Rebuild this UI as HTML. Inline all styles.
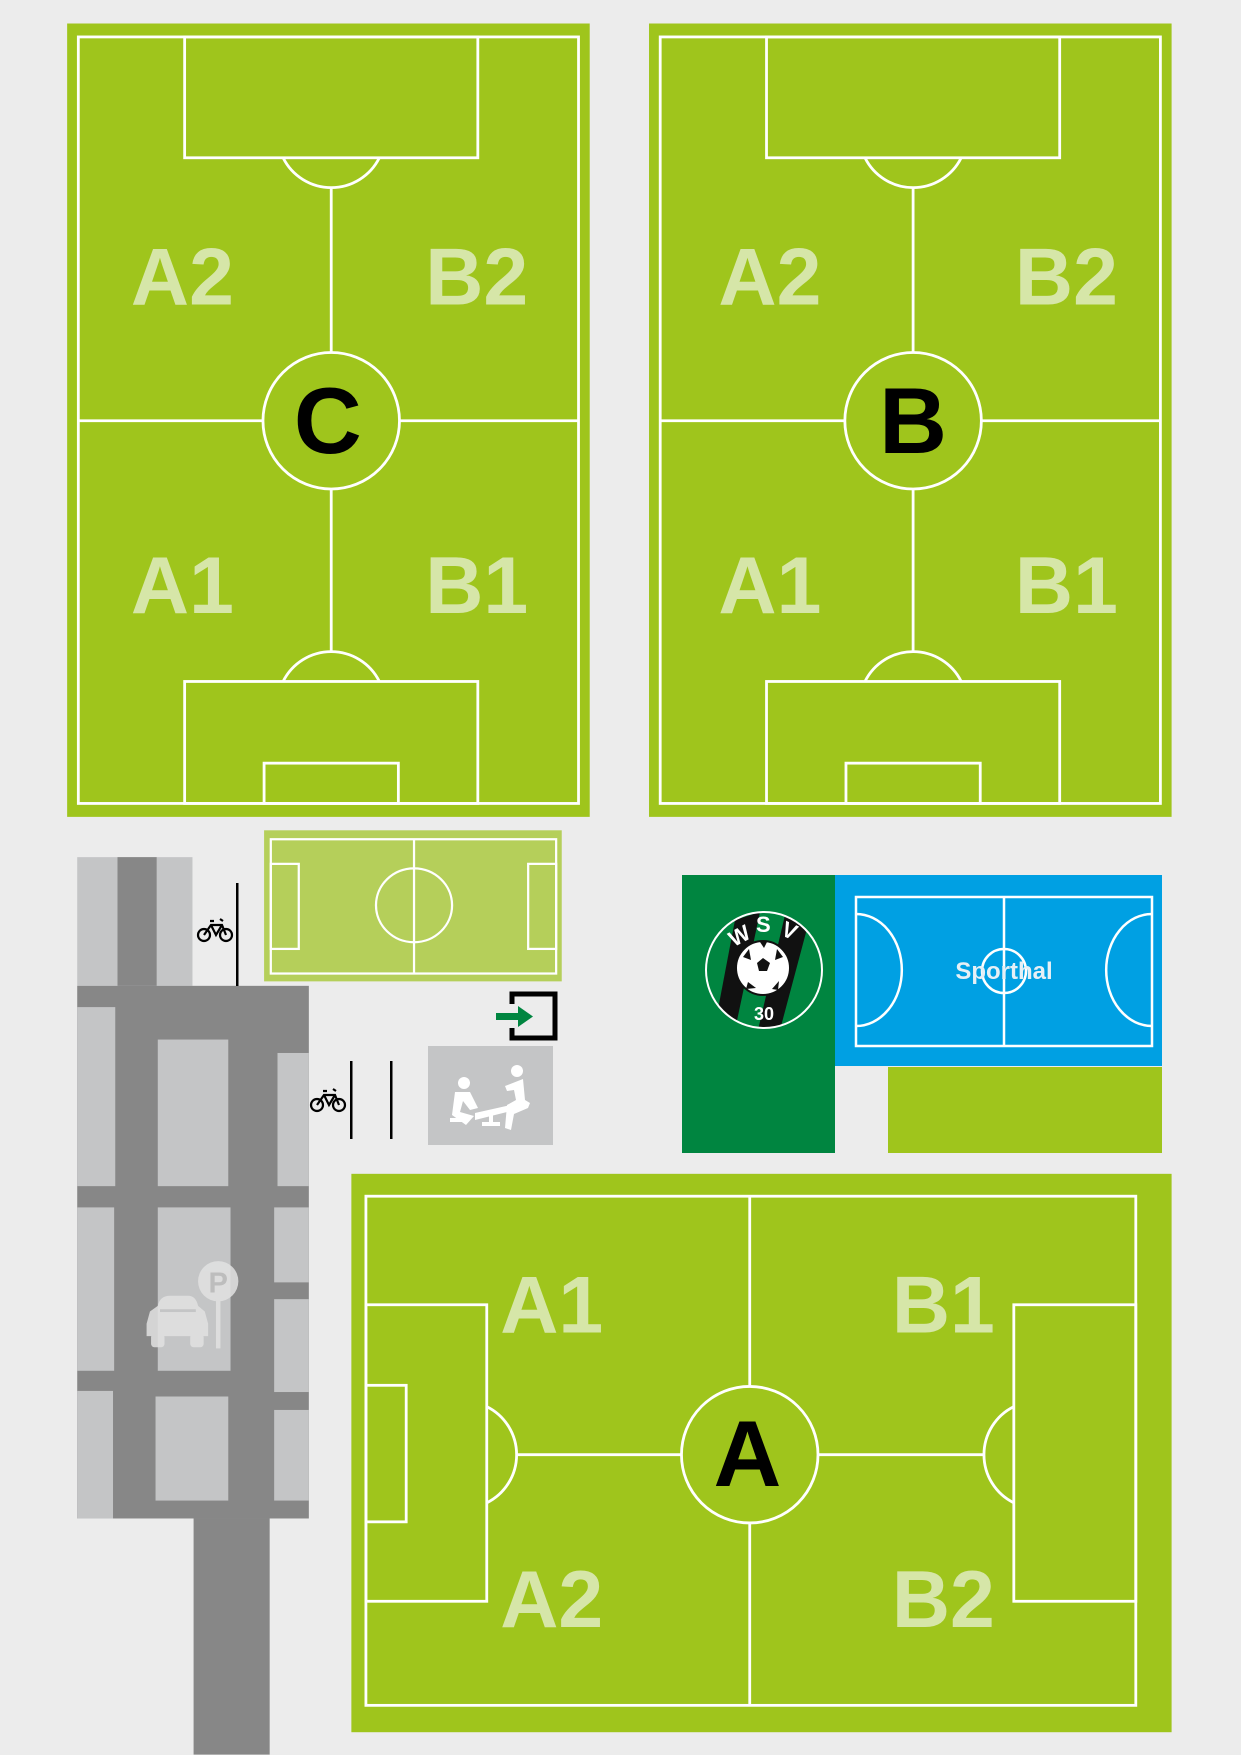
<!DOCTYPE html>
<html><head><meta charset="utf-8"><style>html,body{margin:0;padding:0;background:#ececec}svg{display:block}</style></head>
<body>
<svg width="1241" height="1755" viewBox="0 0 1241 1755" xmlns="http://www.w3.org/2000/svg">
<rect width="1241" height="1755" fill="#ececec"/>
<g transform="scale(1.119)" font-family="Liberation Sans, sans-serif" font-weight="bold">
  <!-- Field C -->
  <rect x="60" y="21" width="467" height="709" fill="#9fc51c"/>
  <g fill="none" stroke="#fff" stroke-width="2.5">
    <rect x="70" y="33" width="447" height="685"/>
    <rect x="165" y="33" width="262" height="108"/>
    <path d="M253 141 A48 48 0 0 0 339 141"/>
    <line x1="296" y1="168" x2="296" y2="315"/><line x1="296" y1="437" x2="296" y2="583"/>
    <line x1="70" y1="376" x2="235" y2="376"/><line x1="357" y1="376" x2="517" y2="376"/>
    <circle cx="296" cy="376" r="61"/>
    <rect x="165" y="609" width="262" height="109"/>
    <path d="M253 609 A48 48 0 0 1 339 609"/>
    <rect x="236" y="682" width="120" height="36"/>
  </g>
  <g fill="#d6e6a8" font-size="72">
    <text x="117" y="272">A2</text><text x="380" y="272">B2</text>
    <text x="117" y="548">A1</text><text x="380" y="548">B1</text>
  </g>
  <text x="293" y="405" font-size="84" text-anchor="middle" fill="#000">C</text>
  <!-- Field B -->
  <g transform="translate(520,0)">
  <rect x="60" y="21" width="467" height="709" fill="#9fc51c"/>
  <g fill="none" stroke="#fff" stroke-width="2.5">
    <rect x="70" y="33" width="447" height="685"/>
    <rect x="165" y="33" width="262" height="108"/>
    <path d="M253 141 A48 48 0 0 0 339 141"/>
    <line x1="296" y1="168" x2="296" y2="315"/><line x1="296" y1="437" x2="296" y2="583"/>
    <line x1="70" y1="376" x2="235" y2="376"/><line x1="357" y1="376" x2="517" y2="376"/>
    <circle cx="296" cy="376" r="61"/>
    <rect x="165" y="609" width="262" height="109"/>
    <path d="M253 609 A48 48 0 0 1 339 609"/>
    <rect x="236" y="682" width="120" height="36"/>
  </g>
  <g fill="#d6e6a8" font-size="72">
    <text x="122" y="272">A2</text><text x="387" y="272">B2</text>
    <text x="122" y="548">A1</text><text x="387" y="548">B1</text>
  </g>
  <text x="296" y="405" font-size="84" text-anchor="middle" fill="#000">B</text>
  </g>
  <!-- Field A -->
  <rect x="314" y="1049" width="733" height="499" fill="#9fc51c"/>
  <g fill="none" stroke="#fff" stroke-width="2.5">
    <rect x="327" y="1069" width="688" height="455"/>
    <line x1="670" y1="1069" x2="670" y2="1239"/><line x1="670" y1="1361" x2="670" y2="1524"/>
    <line x1="461" y1="1300" x2="609" y2="1300"/><line x1="731" y1="1300" x2="880" y2="1300"/>
    <circle cx="670" cy="1300" r="61"/>
    <rect x="327" y="1166" width="108" height="265"/>
    <rect x="327" y="1238" width="36" height="122"/>
    <path d="M435 1257 A48 48 0 0 1 435 1343"/>
    <rect x="906" y="1166" width="109" height="265"/>
    <path d="M906 1257 A48 48 0 0 0 906 1343"/>
  </g>
  <g fill="#d6e6a8" font-size="72">
    <text x="447" y="1191">A1</text><text x="797" y="1191">B1</text>
    <text x="447" y="1454">A2</text><text x="797" y="1454">B2</text>
  </g>
  <text x="668" y="1328" font-size="84" text-anchor="middle" fill="#000">A</text>
  <!-- small field -->
  <rect x="236" y="742" width="266" height="135" fill="#b5cf5a"/>
  <g fill="none" stroke="#fff" stroke-width="2">
    <rect x="242" y="750" width="255" height="120"/>
    <line x1="370" y1="750" x2="370" y2="870"/>
    <ellipse cx="370" cy="809" rx="34" ry="33"/>
    <rect x="242" y="772" width="25" height="76"/>
    <rect x="472" y="772" width="25" height="76"/>
  </g>
  <!-- parking (display coords) -->
  <rect x="69" y="766" width="103" height="115" fill="#c4c5c6"/>
  <rect x="105" y="766" width="35" height="115" fill="#878787"/>
  <rect x="69" y="881" width="207" height="476" fill="#878787"/>
  <rect x="173" y="1357" width="68" height="211" fill="#878787"/>
  <g fill="#c4c5c6">
    <rect x="69" y="900" width="34" height="160"/>
    <rect x="69" y="1079" width="33" height="146"/>
    <rect x="69" y="1243" width="32" height="114"/>
    <rect x="141" y="929" width="63" height="131"/>
    <rect x="141" y="1079" width="65" height="146"/>
    <rect x="139" y="1248" width="65" height="93"/>
    <rect x="248" y="941" width="28" height="119"/>
    <rect x="245" y="1079" width="31" height="67"/>
    <rect x="245" y="1161" width="31" height="83"/>
    <rect x="245" y="1260" width="31" height="81"/>
  </g>
  <g fill="#e2e2e2" opacity="0.85">
    <path d="M141 1167 Q143 1158 152 1158 L168 1158 Q175 1158 177 1167 L183 1172 L186 1183 L186 1194 L131 1194 L131 1183 L134 1172 Z"/>
    <rect x="135" y="1192" width="12" height="12" rx="3"/><rect x="170" y="1192" width="12" height="12" rx="3"/>
    <circle cx="195" cy="1145" r="18"/>
    <rect x="193" y="1160" width="4" height="45"/>
  </g>
  <text x="195" y="1155" font-size="26" fill="#bdbdbd" text-anchor="middle">P</text>
  <rect x="143" y="1170" width="32" height="2.5" fill="#c4c5c6"/>
</g>
<!-- middle section in original coordinates -->
<g>
  <g fill="none" stroke="#000" stroke-width="2.2">
    <circle cx="204" cy="935" r="6"/><circle cx="226" cy="935" r="6"/>
    <path d="M204 935 L211 925 L222 925 L226 935 M211 925 L216 935 L222 925 M210 921 L214 921 M220 919 L223 921"/>
    <circle cx="317" cy="1105" r="6"/><circle cx="339" cy="1105" r="6"/>
    <path d="M317 1105 L324 1095 L335 1095 L339 1105 M324 1095 L329 1105 L335 1095 M323 1091 L327 1091 M333 1089 L336 1091"/>
  </g>
  <rect x="236" y="883" width="2.5" height="103" fill="#000"/>
  <rect x="350" y="1061" width="2.5" height="78" fill="#000"/>
  <rect x="390" y="1061" width="2.5" height="78" fill="#000"/>
  <path d="M512 1004 L512 994 L555 994 L555 1038 L512 1038 L512 1028" fill="none" stroke="#000" stroke-width="5"/>
  <rect x="496" y="1013" width="24" height="7" fill="#008540"/>
  <path d="M518 1006 L533 1016.5 L518 1027 Z" fill="#008540"/>
  <rect x="428" y="1046" width="125" height="99" fill="#c4c5c6"/>
  <g fill="#fff">
    <circle cx="464" cy="1083" r="6"/><circle cx="517" cy="1071" r="6"/>
    <path d="M455 1092 L470 1092 L478 1108 L470 1110 L463 1101 L460 1112 L474 1116 L466 1125 L452 1115 Z"/>
    <path d="M505 1086 L523 1079 L525 1100 L530 1103 L528 1108 L514 1114 L511 1130 L505 1128 L507 1105 L516 1100 L514 1090 L507 1091 Z"/>
    <path d="M475 1113 L515 1104 L515 1110 L475 1120 Z"/>
    <rect x="489" y="1113" width="4" height="12"/><rect x="482" y="1122" width="18" height="4"/>
    <rect x="450" y="1118" width="12" height="4"/>
  </g>
  <rect x="682" y="875" width="153" height="278" fill="#008540"/>
  <rect x="835" y="875" width="327" height="191" fill="#00a0e3"/>
  <rect x="888" y="1067" width="274" height="86" fill="#9fc51c"/>
  <g fill="none" stroke="#fff" stroke-width="2.5">
    <rect x="856" y="897" width="296" height="149"/>
    <line x1="1004" y1="897" x2="1004" y2="1046"/>
    <circle cx="1004" cy="971" r="22"/>
    <path d="M856 914 A45 55 0 0 1 856 1026"/>
    <path d="M1152 914 A45 55 0 0 0 1152 1026"/>
  </g>
  <text x="1004" y="979" font-family="Liberation Sans, sans-serif" font-weight="bold" font-size="24" fill="#e6f0f6" text-anchor="middle">Sporthal</text>
  <clipPath id="lc"><circle cx="764" cy="970" r="58"/></clipPath>
  <circle cx="764" cy="970" r="58" fill="#008540"/>
  <g clip-path="url(#lc)">
    <path d="M735 920 L760 912 L735 1030 L715 1025 Z" fill="#111"/>
    <path d="M785 915 L808 925 L780 1030 L758 1030 Z" fill="#111"/>
  </g>
  <circle cx="764" cy="970" r="58" fill="none" stroke="#fff" stroke-width="2"/>
  <circle cx="763" cy="968" r="27" fill="#fff" stroke="#111" stroke-width="2"/>
  <g fill="#111">
    <path d="M757 963 L763 958 L770 963 L767 971 L759 971 Z"/>
    <path d="M743 957 L749 949 L751 960 Z"/><path d="M777 949 L783 957 L775 960 Z"/>
    <path d="M748 982 L756 988 L746 989 Z"/><path d="M772 989 L779 981 L778 990 Z"/>
    <path d="M760 942 L767 942 L764 948 Z"/>
  </g>
  <g font-family="Liberation Sans, sans-serif" font-weight="bold" fill="#fff">
    <text x="729" y="944" font-size="22" transform="rotate(-28 738 936)">W</text>
    <text x="756" y="932" font-size="22">S</text>
    <text x="782" y="938" font-size="22" transform="rotate(24 789 931)">V</text>
    <text x="764" y="1020" font-size="18" text-anchor="middle">30</text>
  </g>
</g>
</svg>
</body></html>
